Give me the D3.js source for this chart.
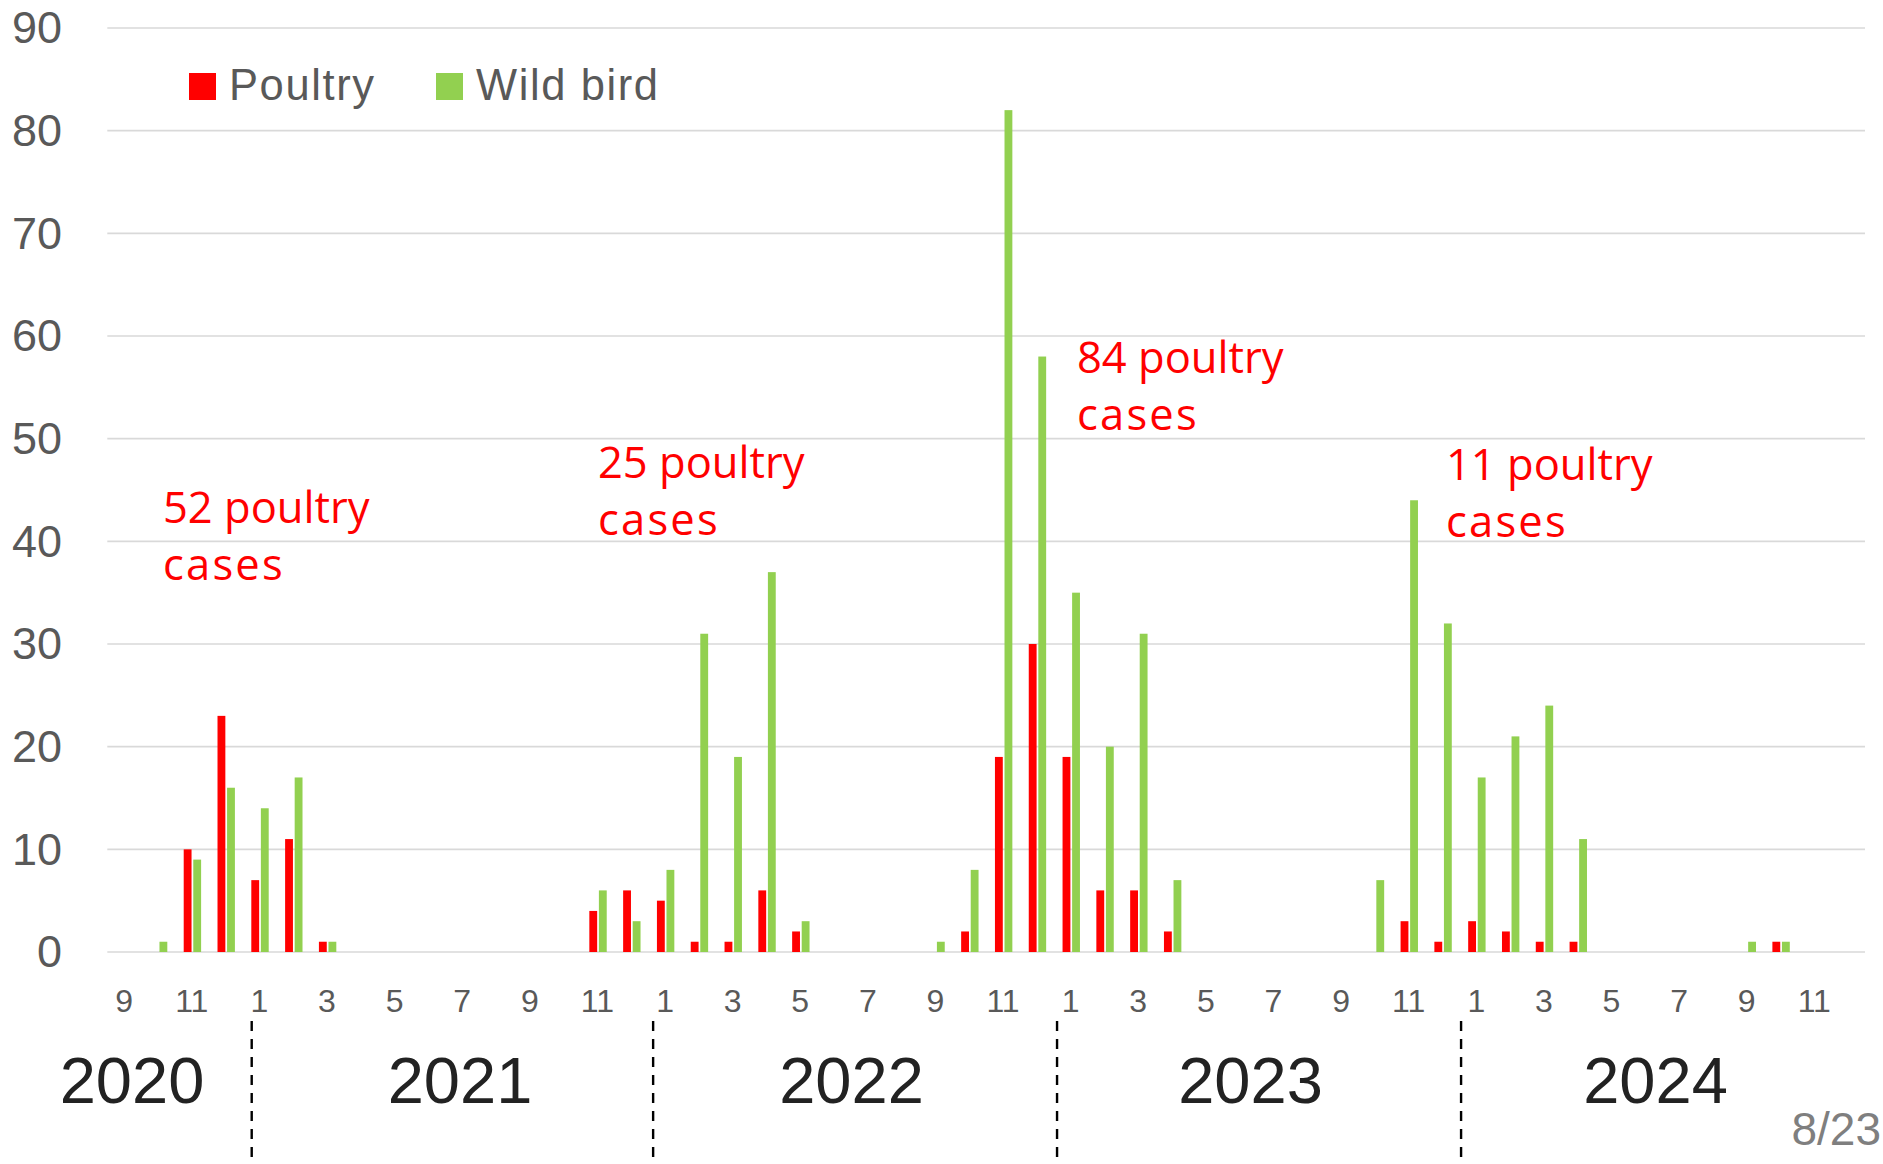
<!DOCTYPE html>
<html><head><meta charset="utf-8">
<script src="https://cdn.jsdelivr.net/npm/d3@7"></script>
<style>body{margin:0;background:#fff;overflow:hidden}</style>
</head><body>
<svg id="c" width="1883" height="1164"></svg>
<script>
// ---- data ----
const months = [
 "2020-09","2020-10","2020-11","2020-12",
 "2021-01","2021-02","2021-03","2021-04","2021-05","2021-06","2021-07","2021-08","2021-09","2021-10","2021-11","2021-12",
 "2022-01","2022-02","2022-03","2022-04","2022-05","2022-06","2022-07","2022-08","2022-09","2022-10","2022-11","2022-12",
 "2023-01","2023-02","2023-03","2023-04","2023-05","2023-06","2023-07","2023-08","2023-09","2023-10","2023-11","2023-12",
 "2024-01","2024-02","2024-03","2024-04","2024-05","2024-06","2024-07","2024-08","2024-09","2024-10","2024-11","2024-12"
];
const poultry = [
 0,0,10,23,
 7,11,1,0,0,0,0,0,0,0,4,6,
 5,1,1,6,2,0,0,0,0,2,19,30,
 19,6,6,2,0,0,0,0,0,0,3,1,
 3,2,1,1,0,0,0,0,0,1,0,0
];
const wildBird = [
 0,1,9,16,
 14,17,1,0,0,0,0,0,0,0,6,3,
 8,31,19,37,3,0,0,0,1,8,82,58,
 35,20,31,7,0,0,0,0,0,7,44,32,
 17,21,24,11,0,0,0,0,1,1,0,0
];
const seriesNames = ["Poultry","Wild bird"];
const seriesColors = ["#FF0000","#92D050"];
const yTicks = [0,10,20,30,40,50,60,70,80,90];
const years = ["2020","2021","2022","2023","2024"];
const annotations = [
 {month:"2020-11", lines:["52 poultry","cases"]},
 {month:"2022-01", lines:["25 poultry","cases"]},
 {month:"2023-01", lines:["84 poultry","cases"]},
 {month:"2024-01", lines:["11 poultry","cases"]}
];
const footnote = "8/23";

// ---- layout ----
const svg = d3.select("#c");
const plotL = 107.3, plotR = 1865, plotT = 28, plotB = 952;
const x0 = d3.scaleBand().domain(months).range([plotL, plotR]).padding(0);
const groupW = 17.4;
const x1 = d3.scaleBand().domain(seriesNames).range([0, groupW]).paddingInner(0.18);
const y = d3.scaleLinear().domain([0, 90]).range([plotB, plotT]);
const color = d3.scaleOrdinal().domain(seriesNames).range(seriesColors);
const axisFont = "'Liberation Sans', Arial, sans-serif";

// gridlines
svg.append("g").selectAll("line").data(yTicks).join("line")
  .attr("x1", plotL).attr("x2", plotR)
  .attr("y1", d => y(d)).attr("y2", d => y(d))
  .attr("stroke", "#d9d9d9").attr("stroke-width", 1.6);

// y labels
svg.append("g").selectAll("text").data(yTicks).join("text")
  .attr("x", 62).attr("y", d => y(d)).attr("dy", "0.34em")
  .attr("text-anchor", "end")
  .attr("font-family", axisFont).attr("font-size", 45)
  .attr("fill", "#595959").text(d => d);

// bars
const rows = months.map((m, i) => ({m, vals: [poultry[i], wildBird[i]]}));
const groups = svg.append("g").selectAll("g").data(rows).join("g")
  .attr("transform", d => `translate(${x0(d.m) + (x0.bandwidth() - groupW) / 2 + 0.6},0)`);
groups.selectAll("rect")
  .data(d => d.vals.map((v, k) => ({s: seriesNames[k], v})).filter(e => e.v > 0))
  .join("rect")
  .attr("x", d => x1(d.s)).attr("width", x1.bandwidth())
  .attr("y", d => y(d.v)).attr("height", d => y(0) - y(d.v))
  .attr("fill", d => color(d.s));

// month tick labels (odd months)
const monthTicks = months.filter((m, i) => i % 2 === 0);
svg.append("g").selectAll("text").data(monthTicks).join("text")
  .attr("x", d => x0(d) + x0.bandwidth() / 2).attr("y", 1012)
  .attr("text-anchor", "middle")
  .attr("font-family", axisFont).attr("font-size", 32)
  .attr("fill", "#595959").text(d => +d.slice(5));

// year dividers (hand-placed near each January)
const divOffset = [9.2, 5, 3.3, 1.7];
const divX = years.slice(1).map((yr, i) => x0(yr + "-01") + divOffset[i]);
svg.append("g").selectAll("line").data(divX).join("line")
  .attr("x1", d => d).attr("x2", d => d)
  .attr("y1", 1021).attr("y2", 1164)
  .attr("stroke", "#000").attr("stroke-width", 2.4)
  .attr("stroke-dasharray", "10,8");

// year labels
const yearLabelX = [132, 460, 851.5, 1250.5, 1655.5];
svg.append("g").selectAll("text").data(years).join("text")
  .attr("x", (d, i) => yearLabelX[i])
  .attr("y", 1103).attr("text-anchor", "middle")
  .attr("font-family", axisFont).attr("font-size", 65)
  .attr("fill", "#222222").text(d => d);

// legend
const legendX = [189, 436];
const leg = svg.append("g").selectAll("g").data(seriesNames).join("g")
  .attr("transform", (d, i) => `translate(${legendX[i]},73)`);
leg.append("rect").attr("width", 27).attr("height", 27).attr("fill", d => color(d));
leg.append("text").attr("x", 40).attr("y", 26.5)
  .attr("font-family", axisFont).attr("font-size", 43.5).attr("letter-spacing", 1.6)
  .attr("fill", "#595959").text(d => d);

// annotations
const annBase = {"2020-11": 522.5, "2022-01": 478, "2023-01": 373, "2024-01": 480};
const annX = {"2020-11": 163, "2022-01": 598, "2023-01": 1077, "2024-01": 1446};
const ann = svg.append("g").selectAll("text").data(annotations).join("text")
  .attr("x", d => annX[d.month]).attr("y", d => annBase[d.month])
  .attr("font-family", "'Open Sans', sans-serif").attr("font-size", 43.5)
  .attr("fill", "#FF0000");
ann.selectAll("tspan").data(d => d.lines.map(l => ({l, x: annX[d.month]}))).join("tspan")
  .attr("x", d => d.x).attr("dy", (d, i) => i === 0 ? 0 : 57)
  .attr("letter-spacing", (d, i) => i === 0 ? 0 : 2.2)
  .text(d => d.l);

// footnote
svg.append("text").attr("x", 1881).attr("y", 1145).attr("text-anchor", "end")
  .attr("font-family", axisFont).attr("font-size", 46)
  .attr("fill", "#7f7f7f").text(footnote);
</script>
</body></html>
